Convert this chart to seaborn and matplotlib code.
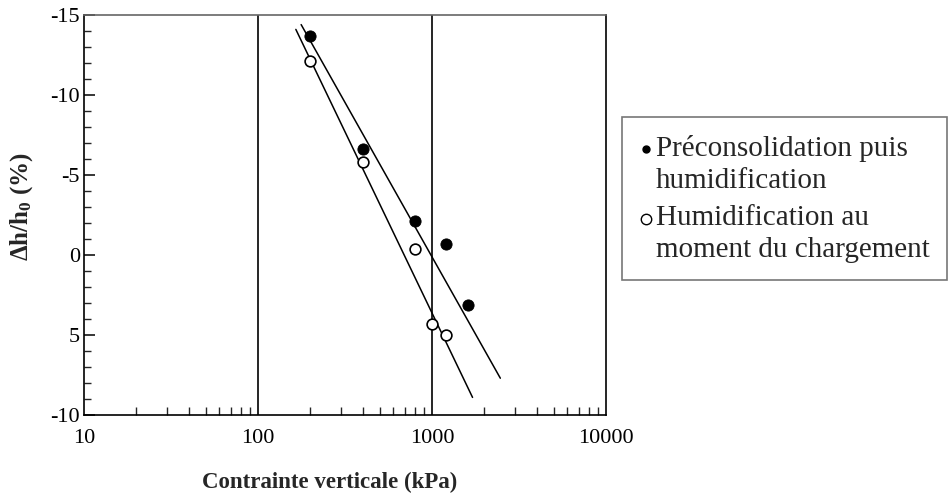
import numpy as np
import pandas as pd
import seaborn as sns
import matplotlib.pyplot as plt
from matplotlib.lines import Line2D
from matplotlib.legend_handler import HandlerLine2D
from matplotlib.ticker import FixedLocator, LogLocator, NullFormatter

stress_pre = [200, 400, 800, 1200, 1600]          # kPa, préconsolidation puis humidification
dh_pre = [-13.7, -6.6, -2.1, -0.7, 3.1]           # %
stress_hum = [200, 400, 800, 1000, 1200]          # kPa, humidification au chargement
dh_hum = [-12.1, -5.8, -0.4, 4.3, 5.0]            # %

# Trend lines (drawn endpoints)
line_pre_x = [177, 2470]
line_pre_y = [-14.4, 7.7]
line_hum_x = [165, 1710]
line_hum_y = [-14.1, 8.9]

y_ticks = [-15, -10, -5, 0, 5, 10]
y_tick_labels = ['-15', '-10', '-5', '0', '5', '-10']
x_ticks = [10, 100, 1000, 10000]
x_tick_labels = ['10', '100', '1000', '10000']


class FirstLineHandler(HandlerLine2D):
    # put the marker next to the first line of a two-line label
    def create_artists(self, legend, orig_handle, xdescent, ydescent,
                       width, height, fontsize, trans):
        arts = super().create_artists(legend, orig_handle, xdescent, ydescent,
                                      width, height, fontsize, trans)
        for a in arts:
            a.set_ydata(np.asarray(a.get_ydata()) + 0.5 * fontsize)
        return arts


sns.set_style('ticks')
plt.rcParams['font.family'] = ['Liberation Serif', 'DejaVu Serif']
plt.rcParams['mathtext.fontset'] = 'custom'
plt.rcParams['mathtext.rm'] = 'Liberation Serif'
plt.rcParams['mathtext.bf'] = 'Liberation Serif:bold'

fig = plt.figure(figsize=(9.51, 4.95), dpi=100)
ax = fig.add_axes([84 / 951, 1 - 415 / 495, (606 - 84) / 951, 400 / 495])

pre = pd.DataFrame({'x': stress_pre, 'y': dh_pre})
hum = pd.DataFrame({'x': stress_hum, 'y': dh_hum})

sns.lineplot(x=line_pre_x, y=line_pre_y, ax=ax, color='black', lw=1.1)
sns.lineplot(x=line_hum_x, y=line_hum_y, ax=ax, color='black', lw=1.1)
sns.scatterplot(data=pre, x='x', y='y', ax=ax, color='black', s=65,
                edgecolor='black', zorder=3)
sns.scatterplot(data=hum, x='x', y='y', ax=ax, facecolor='white', s=60,
                edgecolor='black', linewidth=1.2, zorder=3)

ax.set_xscale('log')
ax.set_xlim(10, 10000)
ax.set_ylim(10, -15)

ax.set_xticks(x_ticks)
ax.set_xticklabels(x_tick_labels)
ax.xaxis.set_minor_locator(LogLocator(base=10, subs=np.arange(2, 10)))
ax.xaxis.set_minor_formatter(NullFormatter())
for v in [100, 1000]:
    ax.axvline(v, color='black', lw=1.2)

ax.set_yticks(y_ticks)
ax.set_yticklabels(y_tick_labels)
ax.yaxis.set_minor_locator(FixedLocator(np.arange(-15, 11, 1)))

ax.tick_params(axis='both', which='major', direction='in', length=8, width=1.1,
               labelsize=16, colors='black', pad=3)
ax.tick_params(axis='x', which='major', length=0, pad=10)
ax.tick_params(axis='both', which='minor', direction='in', length=5, width=1.0)
ax.tick_params(axis='x', which='minor', length=6)

for side in ['top', 'right', 'bottom', 'left']:
    ax.spines[side].set_visible(True)
    ax.spines[side].set_color('black')
    ax.spines[side].set_linewidth(1.2)
ax.spines['top'].set_color('#666666')

ax.set_xlabel('Contrainte verticale (kPa)', fontsize=16.5, fontweight='bold')
ax.set_ylabel(r'$\mathbf{\Delta h/h_0}$ $\mathbf{(\%)}$', fontsize=18)
ax.xaxis.set_label_coords((330 - 84) / 522, (415 - 482) / 400)
ax.yaxis.set_label_coords((22 - 84) / 522, (415 - 207) / 400)
ax.xaxis.label.set_va('center')
ax.yaxis.label.set_va('center')

handles = [
    Line2D([], [], ls='none', marker='o', markersize=5, color='black'),
    Line2D([], [], ls='none', marker='o', markersize=7.5, markerfacecolor='white',
           markeredgecolor='black', markeredgewidth=1.0),
]
labels = ['Préconsolidation puis\nhumidification',
          'Humidification au\nmoment du chargement']
leg = fig.legend(handles, labels, loc='upper left',
                 bbox_to_anchor=(622 / 951, 1 - 117 / 495),
                 fontsize=21, frameon=True, fancybox=False, edgecolor='#555555',
                 handlelength=0.45, handletextpad=0.12, labelspacing=0.38,
                 borderpad=0.6, borderaxespad=0,
                 handler_map={Line2D: FirstLineHandler()})
leg.get_frame().set_linewidth(1.2)
for t in leg.get_texts():
    t.set_linespacing(1.3)

plt.savefig('out.png', dpi=100)
